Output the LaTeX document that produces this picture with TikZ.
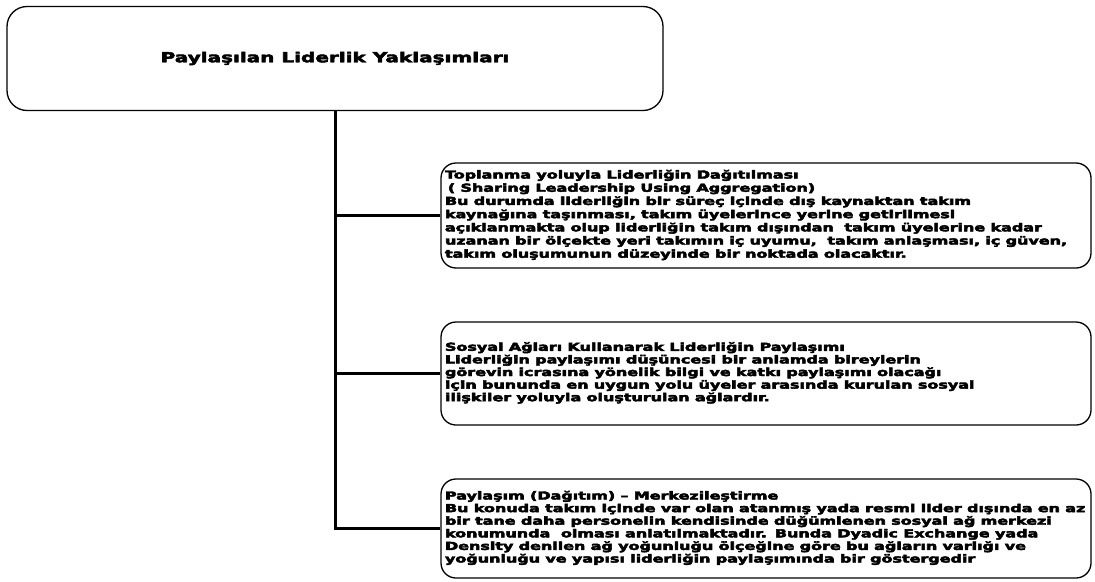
\documentclass[tikz,border=0pt]{standalone}
\usepackage{fontspec}
\newfontfamily\heavy{DejaVu Sans}
\usetikzlibrary{positioning}
% wide, heavy lettering: bold face stretched sideways, outlines thickened
\newcommand{\thickink}[1]{\special{pdf:code 2 Tr 0.4 w}#1\special{pdf:code 0 Tr}}
\newcommand{\widetext}[1]{\scalebox{1.45}[1]{\thickink{\begin{tabular}{@{}l@{}}#1\end{tabular}}}}
\tikzset{
  topbox/.style={draw=black, line width=1.3pt, rounded corners=20pt, fill=white,
    minimum width=656pt, minimum height=104pt, inner sep=0pt,
    font=\heavy\bfseries\fontsize{13.8}{15}\selectfont},
  itembox/.style={draw=black, line width=1.3pt, rounded corners=15pt, fill=white,
    minimum width=650pt, inner xsep=4pt, inner ysep=0pt, text width=642pt, align=left,
    font=\heavy\bfseries\fontsize{11}{12.6}\selectfont},
  conn/.style={draw=black, line width=3pt}
}
\begin{document}
\begin{tikzpicture}[x=1pt,y=-1pt]
\useasboundingbox (0,0) rectangle (1095,581);

% heading box
\node[topbox] (top) at (335,58.5) {\scalebox{1.45}[1]{\thickink{Paylaşılan Liderlik Yaklaşımları}}};

% three approaches
\node[itembox, minimum height=105pt, font=\heavy\bfseries\fontsize{11}{13.2}\selectfont] (b1) at (766,215.5) {\widetext{%
Toplanma yoluyla Liderliğin Dağıtılması\\
\hspace{2pt}( Sharing Leadership Using Aggregation)\\
Bu durumda liderliğin bir süreç içinde dış kaynaktan takım\\
kaynağına taşınması, takım üyelerince yerine getirilmesi\\
açıklanmakta olup liderliğin takım dışından\ \ takım üyelerine kadar\\
uzanan bir ölçekte yeri takımın iç uyumu,\ \ takım anlaşması, iç güven,\\
takım oluşumunun düzeyinde bir noktada olacaktır.}};

\node[itembox, minimum height=103pt] (b2) at (766,373.5) {\widetext{%
Sosyal Ağları Kullanarak Liderliğin Paylaşımı\\
Liderliğin paylaşımı düşüncesi bir anlamda bireylerin\\
görevin icrasına yönelik bilgi ve katkı paylaşımı olacağı\\
için bununda en uygun yolu üyeler arasında kurulan sosyal\\
ilişkiler yoluyla oluşturulan ağlardır.}};

\node[itembox, minimum height=99pt] (b3) at (766,528.5) {\widetext{%
Paylaşım (Dağıtım) – Merkezileştirme\\
Bu konuda takım içinde var olan atanmış yada resmi lider dışında en az\\
bir tane daha personelin kendisinde düğümlenen sosyal ağ merkezi\\
konumunda\ \ olması anlatılmaktadır. Bunda Dyadic Exchange yada\\
Density denilen ağ yoğunluğu ölçeğine göre bu ağların varlığı ve\\
yoğunluğu ve yapısı liderliğin paylaşımında bir göstergedir}};

% tree connectors
\draw[conn] (top.south) -- (top.south |- b3.west) -- (b3.west);
\draw[conn] (top.south |- b1.west) -- (b1.west);
\draw[conn] (top.south |- b2.west) -- (b2.west);
\end{tikzpicture}
\end{document}
